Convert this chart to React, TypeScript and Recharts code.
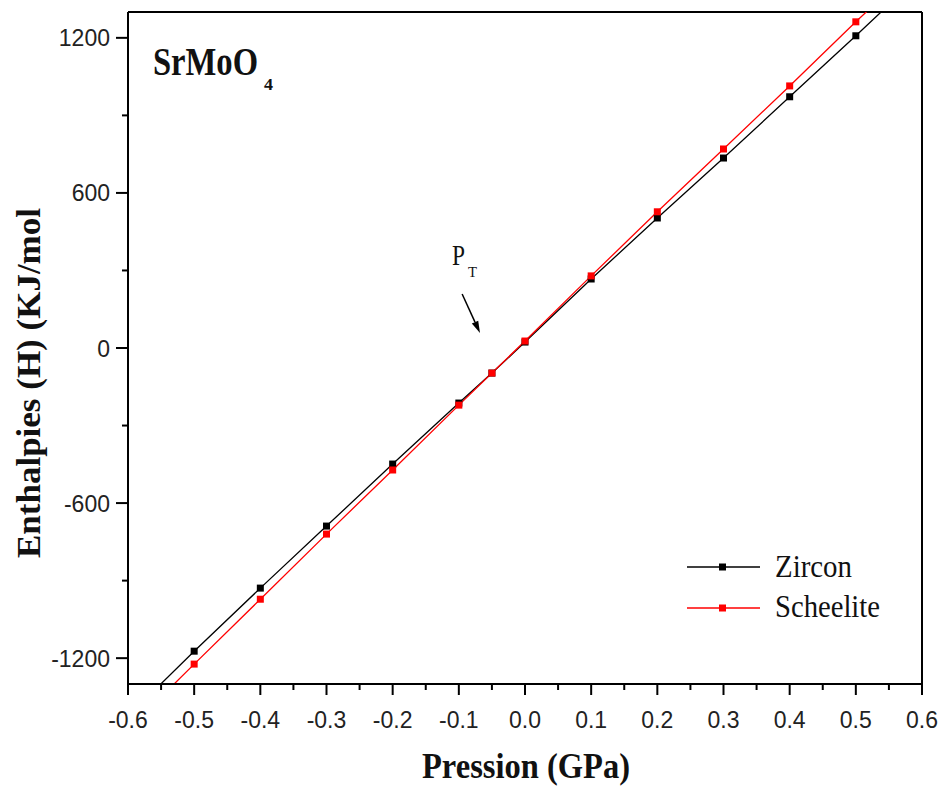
import React from "react";
import {
  ComposedChart,
  Line,
  Scatter,
  XAxis,
  YAxis,
  ReferenceLine,
} from "recharts";

// ---- data ----
const pressures = [-0.5, -0.4, -0.3, -0.2, -0.1, -0.05, 0, 0.1, 0.2, 0.3, 0.4, 0.5];
const zirconH = [-1173, -929, -689, -449, -213, -97, 23, 267, 503, 735, 972, 1208];
const scheeliteH = [-1223, -972, -720, -472, -221, -97, 27, 279, 527, 770, 1014, 1262];

// where each drawn line runs out of the frame (read at the frame edges)
const fitPressures = [-0.6, 0.6];
const zirconFit = [-1425, 1449];
const scheeliteFit = [-1477, 1503];

const xTicks = [
  -0.6, -0.55, -0.5, -0.45, -0.4, -0.35, -0.3, -0.25, -0.2, -0.15, -0.1, -0.05, 0,
  0.05, 0.1, 0.15, 0.2, 0.25, 0.3, 0.35, 0.4, 0.45, 0.5, 0.55, 0.6,
];
const yTicks = [-1200, -900, -600, -300, 0, 300, 600, 900, 1200];

const seriesNames = ["Zircon", "Scheelite"];
const seriesColors = ["#000000", "#ff0000"];

// arrow annotation (data coordinates)
const arrowSegment = [
  { x: -0.095, y: 209 },
  { x: -0.068, y: 58 },
];

const zirconPts = pressures.map((p, i) => ({ p, h: zirconH[i] }));
const scheelitePts = pressures.map((p, i) => ({ p, h: scheeliteH[i] }));
const zirconLine = [
  { p: fitPressures[0], h: zirconFit[0] },
  ...zirconPts,
  { p: fitPressures[1], h: zirconFit[1] },
];
const scheeliteLine = [
  { p: fitPressures[0], h: scheeliteFit[0] },
  ...scheelitePts,
  { p: fitPressures[1], h: scheeliteFit[1] },
];

const TICK_FONT = "'Liberation Sans', Arial, sans-serif";
const SERIF = "'Liberation Serif', 'Times New Roman', serif";

const XTick = (props: any) => {
  const { x, y, payload } = props;
  const v = payload.value as number;
  const major = Math.abs(v * 10 - Math.round(v * 10)) < 1e-6;
  return (
    <g>
      <line x1={x} y1={y} x2={x} y2={y + (major ? 11 : 6)} stroke="#000" strokeWidth={2} />
      {major && (
        <text x={x} y={y + 44} textAnchor="middle" fontFamily={TICK_FONT} fontSize={23} fill="#222">
          {v.toFixed(1)}
        </text>
      )}
    </g>
  );
};

const YTick = (props: any) => {
  const { x, y, payload } = props;
  const v = payload.value as number;
  const major = v % 600 === 0;
  return (
    <g>
      <line x1={x} y1={y} x2={x - (major ? 12 : 6)} y2={y} stroke="#000" strokeWidth={2} />
      {major && (
        <text x={x - 18} y={y + 8.5} textAnchor="end" fontFamily={TICK_FONT} fontSize={23} fill="#222">
          {String(v)}
        </text>
      )}
    </g>
  );
};

const makeSquare = (color: string) => (props: any) => {
  const { cx, cy } = props;
  if (cx == null || cy == null) return <g />;
  return <rect x={cx - 3.5} y={cy - 3.5} width={7} height={7} fill={color} />;
};

const ArrowShape = (props: any) => {
  const { x1, y1, x2, y2 } = props;
  if ([x1, y1, x2, y2].some((v) => v == null || isNaN(v))) return <g />;
  const dx = x2 - x1;
  const dy = y2 - y1;
  const len = Math.sqrt(dx * dx + dy * dy) || 1;
  const ux = dx / len;
  const uy = dy / len;
  const hl = 12;
  const hw = 3.5;
  const bx = x2 - ux * hl;
  const by = y2 - uy * hl;
  const pts = `${x2},${y2} ${bx - uy * hw},${by + ux * hw} ${bx + uy * hw},${by - ux * hw}`;
  return (
    <g>
      <line x1={x1} y1={y1} x2={bx} y2={by} stroke="#000" strokeWidth={1.5} />
      <polygon points={pts} fill="#000" />
    </g>
  );
};

export default function App() {
  return (
    <div style={{ position: "absolute", left: 0, top: 0, width: 942, height: 786, background: "#fff" }}>
      <ComposedChart
        width={942}
        height={786}
        margin={{ top: 12, right: 20, bottom: 0, left: 0 }}
      >
        <XAxis
          xAxisId="x"
          dataKey="p"
          type="number"
          domain={[-0.6, 0.6]}
          ticks={xTicks}
          interval={0}
          allowDataOverflow
          height={102}
          tickSize={0}
          tickMargin={0}
          tickLine={false}
          tick={<XTick />}
          axisLine={{ stroke: "#000", strokeWidth: 2 }}
        />
        <YAxis
          yAxisId="y"
          dataKey="h"
          type="number"
          domain={[-1300, 1300]}
          ticks={yTicks}
          interval={0}
          allowDataOverflow
          width={128}
          tickSize={0}
          tickMargin={0}
          tickLine={false}
          tick={<YTick />}
          axisLine={{ stroke: "#000", strokeWidth: 2 }}
        />
        <ReferenceLine xAxisId="x" yAxisId="y" y={1300} stroke="#000" strokeWidth={2} />
        <ReferenceLine xAxisId="x" yAxisId="y" x={0.6} stroke="#000" strokeWidth={2} />
        <Line
          xAxisId="x"
          yAxisId="y"
          data={zirconLine}
          dataKey="h"
          stroke={seriesColors[0]}
          strokeWidth={1.3}
          dot={false}
          activeDot={false}
          isAnimationActive={false}
          name={seriesNames[0]}
        />
        <Scatter
          xAxisId="x"
          yAxisId="y"
          data={zirconPts}
          dataKey="h"
          shape={makeSquare(seriesColors[0])}
          isAnimationActive={false}
          name={seriesNames[0]}
        />
        <Line
          xAxisId="x"
          yAxisId="y"
          data={scheeliteLine}
          dataKey="h"
          stroke={seriesColors[1]}
          strokeWidth={1.3}
          dot={false}
          activeDot={false}
          isAnimationActive={false}
          name={seriesNames[1]}
        />
        <Scatter
          xAxisId="x"
          yAxisId="y"
          data={scheelitePts}
          dataKey="h"
          shape={makeSquare(seriesColors[1])}
          isAnimationActive={false}
          name={seriesNames[1]}
        />
        <ReferenceLine
          xAxisId="x"
          yAxisId="y"
          segment={arrowSegment}
          shape={ArrowShape}
          ifOverflow="visible"
        />
      </ComposedChart>

      <svg
        width={942}
        height={786}
        style={{ position: "absolute", left: 0, top: 0, pointerEvents: "none" }}
      >
        {/* Title */}
        <text x={153} y={75} fontFamily={SERIF} fontWeight="bold" fontSize={39} textLength={105} lengthAdjust="spacingAndGlyphs" fill="#111">
          SrMoO
        </text>
        <text x={264} y={90} fontFamily={SERIF} fontWeight="bold" fontSize={17} textLength={9} lengthAdjust="spacingAndGlyphs" fill="#111">
          4
        </text>

        {/* P_T annotation */}
        <text x={452} y={265} fontFamily={SERIF} fontSize={30} textLength={13} lengthAdjust="spacingAndGlyphs" fill="#111">
          P
        </text>
        <text x={468} y={277} fontFamily={SERIF} fontSize={15} textLength={9} lengthAdjust="spacingAndGlyphs" fill="#111">
          T
        </text>

        {/* Axis titles */}
        <text x={526} y={778} textAnchor="middle" fontFamily={SERIF} fontWeight="bold" fontSize={35} textLength={208} lengthAdjust="spacingAndGlyphs" fill="#111">
          Pression (GPa)
        </text>
        <text
          x={0}
          y={0}
          transform="translate(40,383) rotate(-90)"
          textAnchor="middle"
          fontFamily={SERIF}
          fontWeight="bold"
          fontSize={33}
          textLength={350}
          lengthAdjust="spacingAndGlyphs"
          fill="#111"
        >
          Enthalpies (H) (KJ/mol
        </text>

        {/* Legend */}
        <line x1={687} y1={567} x2={760} y2={567} stroke={seriesColors[0]} strokeWidth={1.5} />
        <rect x={719} y={563.5} width={7} height={7} fill={seriesColors[0]} />
        <text x={775} y={577} fontFamily={SERIF} fontSize={32} textLength={77} lengthAdjust="spacingAndGlyphs" fill="#111">
          {seriesNames[0]}
        </text>
        <line x1={687} y1={608} x2={760} y2={608} stroke={seriesColors[1]} strokeWidth={1.5} />
        <rect x={719} y={604.5} width={7} height={7} fill={seriesColors[1]} />
        <text x={775} y={617} fontFamily={SERIF} fontSize={32} textLength={105} lengthAdjust="spacingAndGlyphs" fill="#111">
          {seriesNames[1]}
        </text>
      </svg>
    </div>
  );
}
